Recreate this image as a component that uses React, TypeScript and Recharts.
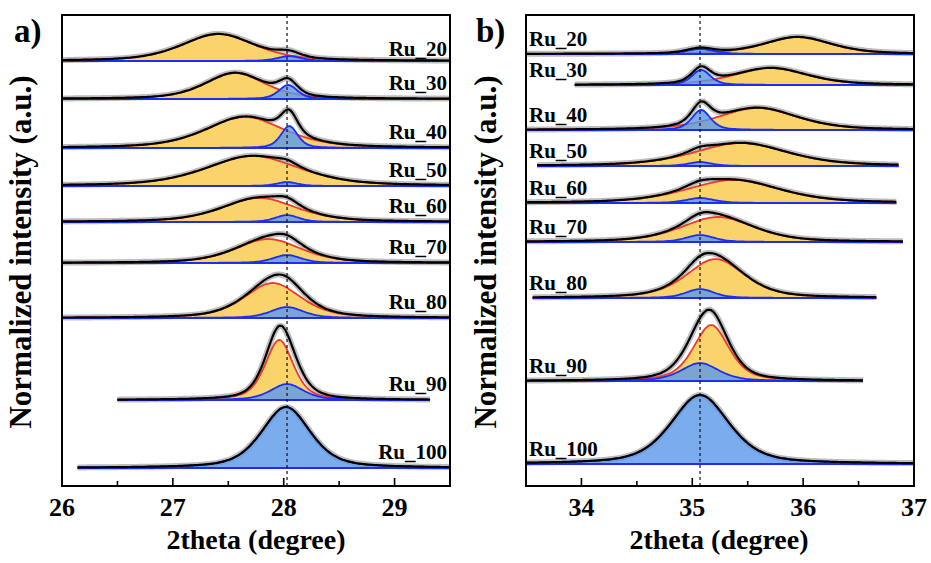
import React from 'react';
import { ComposedChart, Area, Line, XAxis, YAxis, ReferenceLine } from 'recharts';

const labels = ['Ru_20', 'Ru_30', 'Ru_40', 'Ru_50', 'Ru_60', 'Ru_70', 'Ru_80', 'Ru_90', 'Ru_100'];

// panel a) - stacking offset, measured range and fitted peaks (center / height / fwhm)
const aOffset = [425, 387, 338, 300, 264, 223, 168, 86, 18];
const aStart = [26, 26, 26, 26, 26, 26, 26, 26.5, 26.13];
const aEnd = [29.5, 29.5, 29.5, 29.5, 29.5, 29.5, 29.5, 29.32, 29.5];
const aMainCenter = [27.41, 27.56, 27.65, 27.72, 27.78, 27.86, 27.9, 27.96, 0];
const aMainHeight = [27, 26, 31, 30, 24, 24, 35, 60, 0];
const aMainWidth = [0.78, 0.64, 0.84, 1.0, 0.8, 0.7, 0.6, 0.3, 0];
const aRuCenter = [28.05, 28.04, 28.05, 28.03, 28.03, 28.03, 28.03, 28.03, 28.02];
const aRuHeight = [5, 14, 22, 4, 7, 8, 11, 16, 61];
const aRuWidth = [0.25, 0.2, 0.18, 0.22, 0.25, 0.3, 0.35, 0.35, 0.52];
const aTicks = [26, 26.5, 27, 27.5, 28, 28.5, 29, 29.5];

// panel b)
const bOffset = [432, 401, 356, 320, 283, 244, 188, 105, 22];
const bStart = [33.5, 33.93, 33.5, 33.59, 33.5, 33.5, 33.55, 33.5, 33.5];
const bEnd = [37, 37, 37, 36.86, 36.84, 36.9, 36.66, 36.55, 37];
const bMainCenter = [35.95, 35.71, 35.59, 35.44, 35.37, 35.23, 35.21, 35.17, 0];
const bMainHeight = [17, 17, 22, 23, 23, 25, 39, 56, 0];
const bMainWidth = [0.72, 0.78, 0.85, 1.0, 1.0, 0.78, 0.62, 0.38, 0];
const bRuCenter = [35.07, 35.08, 35.08, 35.07, 35.07, 35.07, 35.07, 35.07, 35.07];
const bRuHeight = [5, 15, 20, 4, 5, 7, 9, 18, 69];
const bRuWidth = [0.3, 0.2, 0.2, 0.25, 0.3, 0.3, 0.3, 0.4, 0.62];
const bTicks = [33.5, 34, 34.5, 35, 35.5, 36, 36.5, 37];

const ETA = 0.5;
const STEP = 0.02;

const YELLOW = '#fad46a';
const RED = '#ef3b2c';
const BLUE_FILL = '#5a98ea';
const BLUE = '#1c2ef5';
const GRAY = '#bdbdbd';
const FONT = '"Liberation Serif", "Times New Roman", serif';

function peak(x: number, c: number, h: number, w: number) {
  if (!h) return 0;
  const d = (x - c) / w;
  const g = Math.exp(-4 * Math.LN2 * d * d);
  const l = 1 / (1 + 4 * d * d);
  return h * (ETA * l + (1 - ETA) * g);
}

type PanelDef = {
  domain: [number, number];
  offset: number[];
  start: number[];
  end: number[];
  mc: number[];
  mh: number[];
  mw: number[];
  rc: number[];
  rh: number[];
  rw: number[];
};

function buildData(p: PanelDef) {
  const rows: any[] = [];
  const n = Math.round((p.domain[1] - p.domain[0]) / STEP);
  for (let k = 0; k <= n; k++) {
    const x = Math.round((p.domain[0] + k * STEP) * 1000) / 1000;
    const row: any = { x };
    labels.forEach((_, i) => {
      if (x < p.start[i] - 1e-9 || x > p.end[i] + 1e-9) return;
      const base = p.offset[i];
      const m = peak(x, p.mc[i], p.mh[i], p.mw[i]);
      const r = peak(x, p.rc[i], p.rh[i], p.rw[i]);
      if (p.mh[i]) row[`y${i}`] = [base, base + m];
      row[`b${i}`] = [base, base + r];
      row[`s${i}`] = base + m + r;
    });
    rows.push(row);
  }
  return rows;
}

const panelA: PanelDef = {
  domain: [26, 29.5], offset: aOffset, start: aStart, end: aEnd,
  mc: aMainCenter, mh: aMainHeight, mw: aMainWidth, rc: aRuCenter, rh: aRuHeight, rw: aRuWidth,
};
const panelB: PanelDef = {
  domain: [33.5, 37], offset: bOffset, start: bStart, end: bEnd,
  mc: bMainCenter, mh: bMainHeight, mw: bMainWidth, rc: bRuCenter, rh: bRuHeight, rw: bRuWidth,
};

const AxisTick = (props: any) => {
  const { x, y, payload } = props;
  const major = Number.isInteger(payload.value);
  return (
    <g>
      <line x1={x} x2={x} y1={y} y2={y - (major ? 8 : 5)} stroke="#000" strokeWidth={1.6} />
      {major && (
        <text x={x} y={y + 30} textAnchor="middle" fontFamily={FONT} fontWeight="bold" fontSize={26} fill="#000">
          {payload.value}
        </text>
      )}
    </g>
  );
};

const Panel = ({ p, ticks, refX, left }: { p: PanelDef; ticks: number[]; refX: number; left: number }) => {
  const data = buildData(p);
  return (
    <div style={{ position: 'absolute', left, top: 0 }}>
      <ComposedChart width={466} height={563} data={data} margin={{ top: 15, right: 16, left: 62, bottom: 0 }}>
        <XAxis
          dataKey="x"
          type="number"
          domain={p.domain}
          ticks={ticks}
          allowDataOverflow
          axisLine={false}
          tickLine={false}
          tickSize={0}
          tickMargin={0}
          height={77}
          tick={<AxisTick />}
          interval={0}
        />
        <YAxis hide type="number" domain={[0, 471]} allowDataOverflow />
        {labels.map((_, i) => (
          <Area
            key={`g${i}`}
            dataKey={`s${i}`}
            type="monotone"
            fill="none"
            stroke={GRAY}
            strokeWidth={6}
            isAnimationActive={false}
            dot={false}
            activeDot={false}
          />
        ))}
        {labels.map((_, i) =>
          p.mh[i] ? (
            <Area
              key={`y${i}`}
              dataKey={`y${i}`}
              type="monotone"
              fill={YELLOW}
              fillOpacity={1}
              stroke={RED}
              strokeWidth={1.8}
              isAnimationActive={false}
              dot={false}
              activeDot={false}
            />
          ) : null
        )}
        {labels.map((_, i) => (
          <Area
            key={`b${i}`}
            dataKey={`b${i}`}
            type="monotone"
            fill={BLUE_FILL}
            fillOpacity={0.8}
            stroke={BLUE}
            strokeWidth={1.8}
            isAnimationActive={false}
            dot={false}
            activeDot={false}
          />
        ))}
        {labels.map((_, i) => (
          <Line
            key={`s${i}`}
            dataKey={`s${i}`}
            type="monotone"
            stroke="#000"
            strokeWidth={2.2}
            dot={false}
            activeDot={false}
            isAnimationActive={false}
          />
        ))}
        <ReferenceLine x={refX} stroke="#111" strokeWidth={1.2} strokeDasharray="3 3" />
      </ComposedChart>
      <div
        style={{
          position: 'absolute',
          left: 61,
          top: 14,
          width: 390,
          height: 473,
          border: '2px solid #000',
          boxSizing: 'border-box',
          pointerEvents: 'none',
        }}
      />
    </div>
  );
};

export default function App() {
  return (
    <div style={{ position: 'absolute', left: 0, top: 0, width: 931, height: 563, background: '#fff', overflow: 'hidden' }}>
      <Panel p={panelA} ticks={aTicks} refX={28.03} left={0} />
      <Panel p={panelB} ticks={bTicks} refX={35.07} left={464} />
      <svg width={931} height={563} style={{ position: 'absolute', left: 0, top: 0, pointerEvents: 'none' }}>
        <g fontFamily={FONT} fontWeight="bold" fill="#000">
          <text x={14} y={42} fontSize={33}>a)</text>
          <text x={476} y={42} fontSize={33}>b)</text>
          <text x={31} y={252} fontSize={31} textAnchor="middle" transform="rotate(-90 31 252)">
            Normalized intensity (a.u.)
          </text>
          <text x={496} y={252} fontSize={31} textAnchor="middle" transform="rotate(-90 496 252)">
            Normalized intensity (a.u.)
          </text>
          <text x={256} y={549} fontSize={28} textAnchor="middle">2theta (degree)</text>
          <text x={719} y={549} fontSize={28} textAnchor="middle">2theta (degree)</text>
          {labels.map((l, i) => (
            <text key={`la${i}`} x={447} y={486 - aOffset[i] - (i === 0 ? 5 : 9)} fontSize={21} textAnchor="end">{l}</text>
          ))}
          {labels.map((l, i) => (
            <text key={`lb${i}`} x={529} y={486 - bOffset[i] - 8} fontSize={21}>{l}</text>
          ))}
        </g>
      </svg>
    </div>
  );
}
